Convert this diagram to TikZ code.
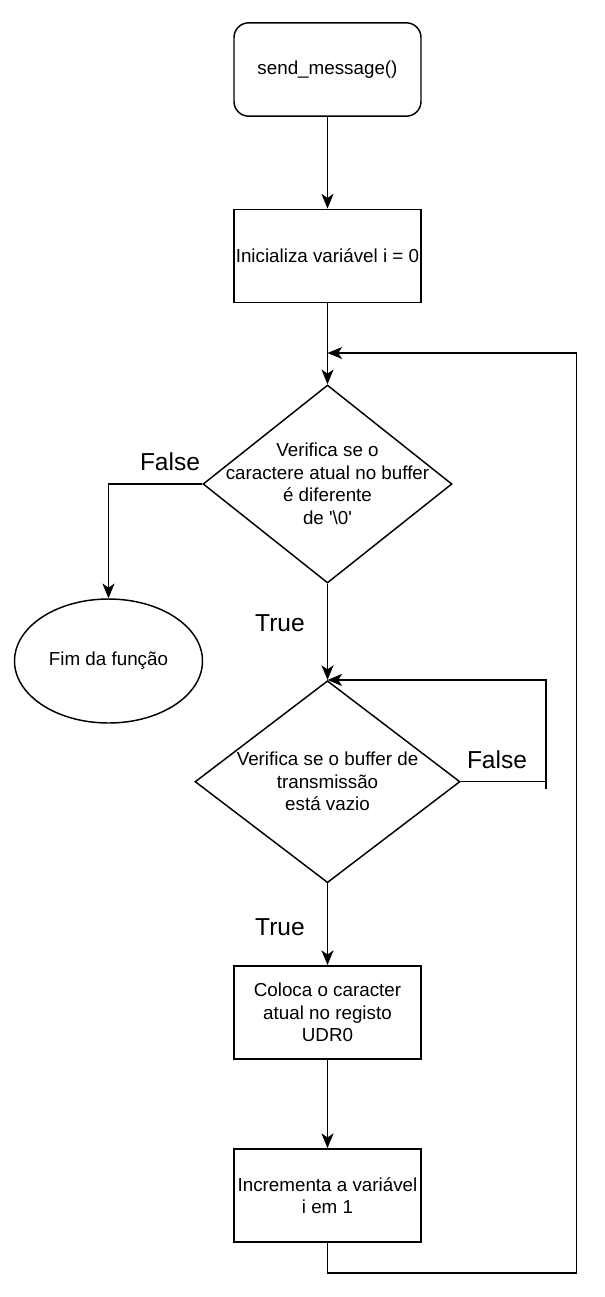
\documentclass[tikz,border=0pt]{standalone}
\usepackage{fontspec}
\setmainfont{Liberation Sans}
\usetikzlibrary{shapes.geometric,arrows.meta}

\begin{document}
\begin{tikzpicture}[x=0.75pt,y=-0.75pt,line width=1.1pt,>={Stealth[length=11pt,width=9pt,inset=3pt]}]
\tikzstyle{txt} = [font=\fontsize{14.1}{16.9}\selectfont,align=center]
\tikzstyle{proc} = [draw,txt,shape=rectangle,minimum width=140.25pt,minimum height=70pt,inner sep=1pt]
\tikzstyle{term} = [proc,rounded corners=11pt]
\tikzstyle{dec} = [draw,shape=diamond,inner sep=0pt]
\tikzstyle{stop} = [draw,txt,shape=ellipse,minimum width=141pt,minimum height=93pt,inner sep=0pt]
\tikzstyle{lbl} = [font=\fontsize{18.4}{22}\selectfont]
\useasboundingbox (0,0) rectangle (604,1297);
\node[term] (start) at (327.5,69.5) {send\_message()};
\node[proc] (init) at (327.5,256) {Inicializa variável i = 0};
\node[dec,minimum width=186.75pt,minimum height=148.5pt,
  label={[name=dec1txt,txt]center:Verifica se o\\caractere atual no buffer\\é diferente\\de \textquotesingle\textbackslash 0\textquotesingle}] (dec1) at (327.5,484) {};
\node[stop] (fim) at (108.5,661) {Fim da função};
\node[dec,minimum width=198.75pt,minimum height=151.5pt,
  label={[name=dec2txt,txt]center:Verifica se o buffer de\\transmissão\\está vazio}] (dec2) at (327.5,781.7) {};
\node[proc] (put) at (327.5,1012.5) {Coloca o caracter\\atual no registo\\UDR0};
\node[proc] (inc) at (327.5,1195.5) {Incrementa a variável\\i em 1};
% labels
\node[lbl] (f1) at (170,462) {False};
\node[lbl] (t1) at (280,623) {True};
\node[lbl] (f2) at (497,760) {False};
\node[lbl] (t2) at (280,927) {True};
% connectors
\coordinate (wait) at (546,789);
\coordinate (back) at (576.7,1273);
\coordinate (join) at (327.5,353);
\draw[->] (start) -- (init);
\draw[->] (init) -- (dec1);
\draw[->] (dec1.west) -| (fim.north);
\draw[->] (dec1) -- (dec2);
\draw (dec2.east) -- (dec2.east -| wait);
\draw[->] (wait) |- (dec2.north);
\draw[->] (dec2) -- (put);
\draw[->] (put) -- (inc);
\draw[->] (inc.south) |- (back) |- (join);
\end{tikzpicture}
\end{document}
